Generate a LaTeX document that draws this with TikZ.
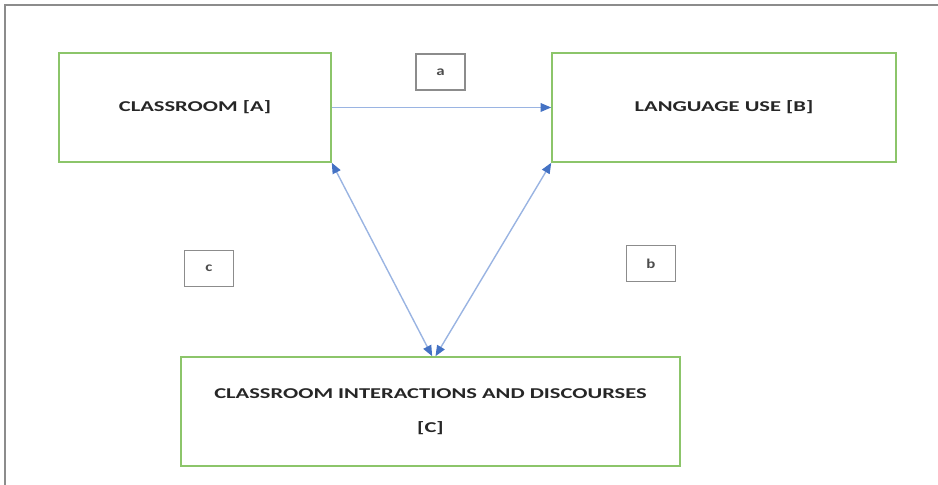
\documentclass[tikz,border=0pt]{standalone}
\usepackage{fontspec}
\setmainfont{Carlito}
\newfontfamily\wideboxfont[FakeStretch=1.5]{Carlito}
\newfontfamily\widetagfont[FakeStretch=1.25]{Carlito}
\usetikzlibrary{positioning,arrows.meta,calc}
\definecolor{boxgreen}{HTML}{8CC56A}
\definecolor{linkblue}{HTML}{9AB4E2}
\definecolor{tipblue}{HTML}{4472C4}
\definecolor{framegray}{HTML}{8C8C8C}

\begin{document}
\begin{tikzpicture}[>={Triangle[length=3.2mm,width=2.6mm,color=tipblue]},
  mainbox/.style={draw=boxgreen,line width=1.3pt,minimum height=3.27cm,align=center,
    font=\wideboxfont\fontsize{12.8}{29}\selectfont\bfseries,text=black!85},
  tagbox/.style={draw=framegray,line width=0.9pt,minimum width=1.47cm,minimum height=1.08cm,
    font=\widetagfont\fontsize{11.5}{13}\selectfont\bfseries,text=black!70},
  link/.style={draw=linkblue,line width=1.2pt}]
  \useasboundingbox (0,0) rectangle (28.14,14.55);
  \draw[framegray,line width=0.9pt] (0.15,0) -- (0.15,14.4) -- (28.14,14.4);
  \node[mainbox,minimum width=8.16cm] (A) at (5.85,11.325) {CLASSROOM [A]};
  \node[mainbox,minimum width=10.32cm] (B) at (21.72,11.325) {LANGUAGE USE [B]};
  \node[mainbox,minimum width=14.97cm] (C) at (12.915,2.205) {CLASSROOM INTERACTIONS AND DISCOURSES\\{[C]}};
  \node[tagbox] (a) at (13.215,12.39) {a};
  \node[tagbox] (c) at (6.27,6.495) {c};
  \node[tagbox] (b) at (19.53,6.645) {b};
  \coordinate (cl) at ($(C.north)+(0.05,0)$);
  \coordinate (cr) at ($(C.north)+(0.15,0)$);
  \draw[link,->] (A.east) -- (B.west);
  \draw[link,<->] (A.south east) -- (cl);
  \draw[link,<->] (B.south west) -- (cr);
\end{tikzpicture}
\end{document}
